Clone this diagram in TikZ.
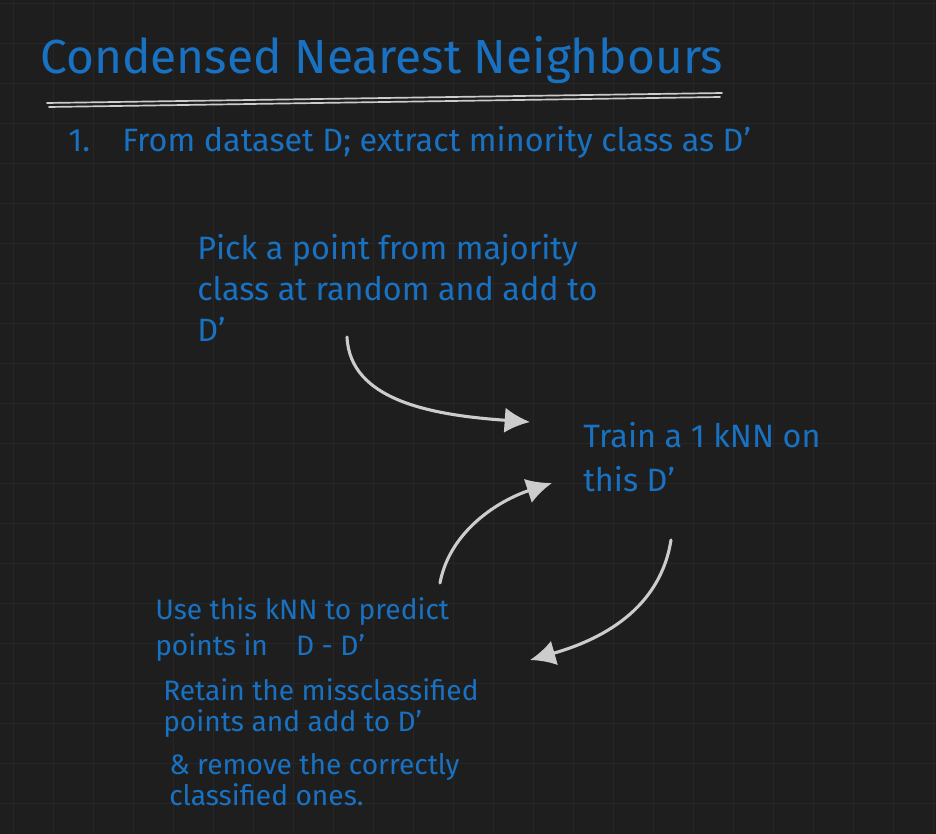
\documentclass[tikz,border=0pt]{standalone}
\usepackage{fontspec}
\setmainfont{Fira Sans}
\usetikzlibrary{arrows.meta,positioning}
\definecolor{boardbg}{HTML}{1E1E1E}
\definecolor{boardgrid}{HTML}{262626}
\definecolor{inkblue}{HTML}{1971C2}
\definecolor{chalk}{HTML}{CCCCCC}

\begin{document}
\begin{tikzpicture}[
    x=0.025cm,y=-0.025cm,
    note/.style={text=inkblue,align=left,anchor=north west,inner sep=0pt},
    flow/.style={draw=chalk,line width=2.2pt,line cap=round,
                 -{Latex[length=18pt,width=18pt]}},
  ]
    % board and its faint grid
    \fill[boardbg] (0,0) rectangle (936,834);
    \useasboundingbox (0,0) rectangle (936,834);
    \foreach \gx in {13,53,...,933}
      \draw[boardgrid,line width=0.6pt] (\gx,0) -- (\gx,834);
    \foreach \gy in {3,43,...,833}
      \draw[boardgrid,line width=0.6pt] (0,\gy) -- (936,\gy);

    % heading
    \node[note,font=\fontsize{34}{40}\selectfont] (title) at (40,36)
      {Condensed Nearest Neighbours};
    \draw[chalk,line width=1.2pt,line cap=round] (47,103) -- (722,93);
    \draw[chalk,line width=1.2pt,line cap=round] (49,107) -- (720,97);
    \node[note,font=\fontsize{23}{27}\selectfont] (stepone) at (68,126)
      {1.\quad From dataset D; extract minority class as D'};

    % the loop
    \node[note,font=\fontsize{23}{29}\selectfont] (pick) at (197,234)
      {Pick a point from majority\\class at random and add to\\D'};
    \node[note,font=\fontsize{23}{31}\selectfont] (train) at (583,422)
      {Train a 1 kNN on\\this D'};
    \node[note,font=\fontsize{20}{26}\selectfont] (use) at (155,597)
      {Use this kNN to predict\\points in\quad D - D'};
    \node[note,font=\fontsize{20}{22}\selectfont,below=0.4cm of use.south west,anchor=north west,xshift=0.2cm] (retain)
      {Retain the missclassified\\points and add to D'};
    \node[note,font=\fontsize{20}{22}\selectfont,below=0.4cm of retain.south west,anchor=north west,xshift=0.15cm] (remove)
      {\& remove the correctly\\classified ones.};

    \coordinate (pickout) at (347,337);
    \coordinate (trainin) at (530,422);
    \coordinate (useout) at (440,583);
    \coordinate (trainback) at (552,483);
    \coordinate (trainout) at (671,540);
    \coordinate (usein) at (530,660);
    \draw[flow] (pickout) .. controls (350,400) and (430,415) .. (trainin);
    \draw[flow] (useout) .. controls (450,530) and (500,500) .. (trainback);
    \draw[flow] (trainout) .. controls (660,610) and (600,640) .. (usein);
  \end{tikzpicture}
\end{document}
